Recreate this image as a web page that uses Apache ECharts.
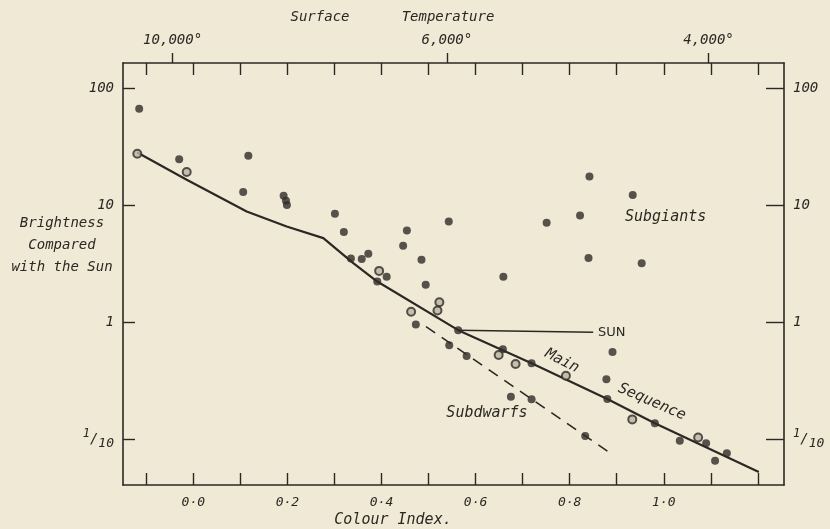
<!DOCTYPE html>
<html><head><meta charset="utf-8">
<script src="https://cdn.jsdelivr.net/npm/echarts@6/dist/echarts.min.js"></script>
<style>html,body{margin:0;padding:0;background:#f0e9d5;}#c{width:830px;height:529px;}</style>
</head><body><div id="c"></div>
<script>
// Colour index (x) and brightness relative to the Sun (y, log scale)
const filledColour = [-0.115,-0.030,0.117,0.106,0.192,0.197,0.199,0.301,0.320,0.335,0.358,0.372,0.411,0.391,0.446,0.454,0.485,0.494,0.473,0.543,0.563,0.544,0.581,0.659,0.658,0.719,0.751,0.822,0.842,0.934,0.840,0.953,0.891,0.878,0.880,0.675,0.719,0.981,1.034,1.090,1.109,1.134,0.833];
const filledBright = [67.3,24.9,26.6,13.0,12.1,10.96,10.1,8.48,5.91,3.51,3.47,3.85,2.45,2.23,4.51,6.10,3.42,2.09,0.954,7.28,0.854,0.635,0.514,2.45,0.587,0.444,7.10,8.20,17.7,12.3,3.54,3.20,0.554,0.325,0.220,0.230,0.219,0.136,0.0966,0.0918,0.0651,0.0754,0.106];
const openColour = [-0.119,-0.014,0.395,0.523,0.519,0.463,0.649,0.685,0.792,0.933,1.073];
const openBright = [27.7,19.3,2.75,1.48,1.26,1.23,0.524,0.438,0.348,0.147,0.103];
const mainColour = [-0.119,-0.014,0.1135,0.1985,0.2764,0.340,0.391,0.563,0.719,0.880,0.981,1.202];
const mainBright = [28.4,16.6,8.87,6.60,5.25,3.20,2.23,0.854,0.444,0.220,0.136,0.0521];
const subdwarfColour = [0.4947,0.892];
const subdwarfBright = [0.917,0.0729];
const sunColour = [0.563,0.850];
const sunBright = [0.854,0.821];
const xTickValues = [-0.1,0,0.1,0.2,0.3,0.4,0.5,0.6,0.7,0.8,0.9,1.0,1.1,1.2];
const xLabelValues = [0,0.2,0.4,0.6,0.8,1.0];
const tempLabels = ['10,000°','6,000°','4,000°'];
const tempColour = [-0.044,0.539,1.095];
const yTickValues = [0.1,1,10,100];
const yTickLabels = ['1/10','1','10','100'];

const ink = '#2b2824';
const hand = 'DejaVu Sans Mono';
const zip = (a,b) => a.map((v,i)=>[v,b[i]]);
const xMin = -0.1494, xMax = 1.2555, yMin = 0.04031, yMax = 165.9;

function yFmt(v){
  let i = yTickValues.findIndex(t => Math.abs(Math.log10(t)-Math.log10(v))<1e-6);
  let s = i>=0 ? yTickLabels[i] : String(v);
  if (s.indexOf('/')>0){ const p=s.split('/'); return '{n|'+p[0]+'}{s|/}{d|'+p[1]+'}'; }
  return s;
}
const yRich = {
  n:{fontSize:12,fontStyle:'italic',fontFamily:hand,color:ink,verticalAlign:'top',lineHeight:22},
  s:{fontSize:14,fontStyle:'italic',fontFamily:hand,color:ink,verticalAlign:'middle',lineHeight:22},
  d:{fontSize:13,fontStyle:'italic',fontFamily:hand,color:ink,verticalAlign:'bottom',lineHeight:22}
};
function tFmt(v){
  let best=0; tempColour.forEach((t,i)=>{ if(Math.abs(t-v)<Math.abs(tempColour[best]-v)) best=i; });
  return tempLabels[best];
}
const axisLine = {show:true,onZero:false,lineStyle:{color:ink,width:1.6}};
const chart = echarts.init(document.getElementById('c'), null, {renderer:'canvas'});
const txt = (t,x,y,o) => Object.assign({type:'text',x:x,y:y,style:Object.assign({text:t,fill:ink,font:'italic 14px "DejaVu Sans Mono"',textAlign:'center',textVerticalAlign:'middle'}, o||{})});
chart.setOption({
  backgroundColor:'#f0e9d5',
  animation:false,
  grid:{left:123,right:46,top:63,bottom:44},
  xAxis:[
    {type:'value',position:'bottom',min:xMin,max:xMax,axisLine:axisLine,splitLine:{show:false},
     axisTick:{inside:true,length:12,customValues:xTickValues,lineStyle:{color:ink,width:1.4}},
     axisLabel:{customValues:xLabelValues,margin:11,color:ink,fontFamily:hand,fontStyle:'italic',fontSize:13,
       formatter:v=>v.toFixed(1).replace('.','·')}},
    {type:'value',position:'top',min:xMin,max:xMax,axisLine:axisLine,splitLine:{show:false},
     axisTick:{inside:true,length:12,customValues:xTickValues,lineStyle:{color:ink,width:1.4}},
     axisLabel:{show:false}},
    {type:'value',position:'top',min:xMin,max:xMax,axisLine:{show:false,onZero:false},splitLine:{show:false},
     axisTick:{inside:false,length:10,customValues:tempColour,lineStyle:{color:ink,width:1.4}},
     axisLabel:{customValues:tempColour,margin:16,color:ink,fontFamily:hand,fontStyle:'italic',fontSize:14,formatter:tFmt}}
  ],
  yAxis:[
    {type:'log',logBase:10,position:'left',min:yMin,max:yMax,axisLine:axisLine,splitLine:{show:false},
     axisTick:{inside:true,length:12,customValues:yTickValues,lineStyle:{color:ink,width:1.4}},
     axisLabel:{customValues:yTickValues,margin:9,color:ink,fontFamily:hand,fontStyle:'italic',fontSize:14,formatter:yFmt,rich:yRich}},
    {type:'log',logBase:10,position:'right',min:yMin,max:yMax,axisLine:axisLine,splitLine:{show:false},
     axisTick:{inside:true,length:18,customValues:yTickValues,lineStyle:{color:ink,width:1.4}},
     axisLabel:{customValues:yTickValues,margin:9,color:ink,fontFamily:hand,fontStyle:'italic',fontSize:14,formatter:yFmt,rich:yRich}}
  ],
  series:[
    {type:'line',name:'Main Sequence',data:zip(mainColour,mainBright),symbol:'none',smooth:false,
     lineStyle:{color:ink,width:2.2},z:2},
    {type:'line',name:'Subdwarfs',data:zip(subdwarfColour,subdwarfBright),symbol:'none',
     lineStyle:{color:ink,width:1.6,type:[11,8]},z:2},
    {type:'line',name:'Sun',data:zip(sunColour,sunBright),symbol:'none',
     lineStyle:{color:ink,width:1.6},z:2},
    {type:'scatter',name:'stars',data:zip(filledColour,filledBright),symbol:'circle',symbolSize:8,
     itemStyle:{color:'#2f2c28'},z:5},
    {type:'scatter',name:'stars (open)',data:zip(openColour,openBright),symbol:'circle',symbolSize:8,
     itemStyle:{color:'#b9b3a3',borderColor:'#2f2c28',borderWidth:2},z:5}
  ],
  graphic:[
    txt('Surface',320,17,{font:'italic 14px "DejaVu Sans Mono"'}),
    txt('Temperature',448,17,{font:'italic 14px "DejaVu Sans Mono"'}),
    txt('Brightness',62,223),
    txt('Compared',62,245),
    txt('with the Sun',62,267),
    txt('Colour Index.',393,520,{font:'italic 15px "DejaVu Sans Mono"'}),
    txt('Subgiants',625,217,{textAlign:'left',font:'italic 15px "DejaVu Sans Mono"'}),
    txt('SUN',598,333,{textAlign:'left',font:'13px "DejaVu Sans"'}),
    Object.assign(txt('Main',562,361,{font:'italic 15px "DejaVu Sans Mono"'}),{rotation:-0.47}),
    Object.assign(txt('Sequence',652,402,{font:'italic 15px "DejaVu Sans Mono"'}),{rotation:-0.41}),
    txt('Subdwarfs',487,413,{font:'italic 15px "DejaVu Sans Mono"'})
  ]
});
</script></body></html>
